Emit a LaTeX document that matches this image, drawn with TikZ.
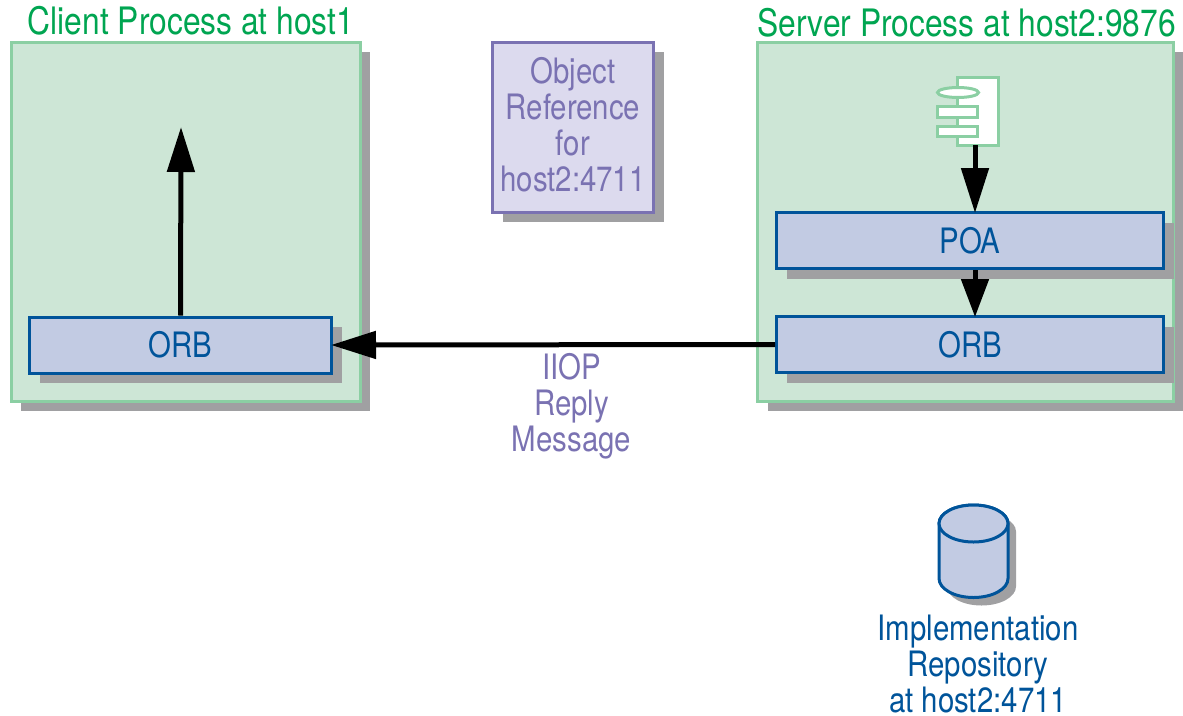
\documentclass[tikz,border=0pt]{standalone}
\usepackage{fontspec}
\setmainfont[FakeStretch=0.84]{TeX Gyre Heros}
\usetikzlibrary{calc,shapes.geometric,arrows.meta,shadows,positioning}
\definecolor{procfill}{HTML}{CDE6D6}
\definecolor{procline}{HTML}{8BCFA3}
\definecolor{procgreen}{HTML}{00A551}
\definecolor{orbfill}{HTML}{C2CBE3}
\definecolor{orbline}{HTML}{00549A}
\definecolor{reffill}{HTML}{DCDAEE}
\definecolor{refline}{HTML}{7A72B2}
\definecolor{shade}{HTML}{A0A0A2}
\tikzstyle{castshadow} = [drop shadow={shadow xshift=10pt, shadow yshift=-10pt, fill=shade, opacity=1}]
\tikzstyle{process} = [rectangle, minimum width=349pt, minimum height=359pt, draw=procline, line width=3pt, fill=procfill, inner sep=0pt, castshadow]
\tikzstyle{layer} = [rectangle, minimum width=387pt, minimum height=56pt, draw=orbline, line width=3pt, fill=orbfill, text=orbline, inner sep=0pt, castshadow]
\tikzstyle{objref} = [rectangle, minimum width=161pt, minimum height=170pt, draw=refline, line width=3pt, fill=reffill, inner sep=0pt, castshadow]
\tikzstyle{proclabel} = [text=procgreen, inner sep=0pt, font=\fontsize{37.8}{40}\selectfont]
\tikzstyle{msglabel} = [text=refline, align=center, inner sep=0pt]
\tikzstyle{repolabel} = [text=orbline, align=center, inner sep=0pt]
\tikzstyle{comppart} = [rectangle, draw=procline, line width=3pt, fill=white, inner sep=0pt]
\tikzstyle{repobody} = [draw=orbline, line width=3pt, fill=orbfill]
\tikzstyle{arrow} = [line width=5pt, shorten >=-2pt, -{Triangle[length=45pt, width=27pt]}]
\begin{document}
\begin{tikzpicture}[x=1pt, y=-1pt, node distance=105pt, font=\fontsize{35}{36}\selectfont]
\useasboundingbox (0,0) rectangle (1183,715);
\node (client) [process] at (185.5,221.5) {};
\node (server) [process, minimum width=416pt] at (965.5,221.5) {};
\node (clientlabel) [proclabel] at (191,21) {Client Process at host1};
\node (serverlabel) [proclabel] at (966.5,23) {Server Process at host2:9876};
\node (ref) [objref] at (573,127) {};
\node (reflabel) [msglabel] at (573,124.5) {Object\\Reference\\for\\host2:4711};
\node (orbc) [layer, minimum width=302pt] at (180.5,345) {ORB};
\node (poa) [layer] at (970,240.5) {POA};
\node (orbs) [layer, below of=poa, yshift=1pt] {ORB};
\node (msg) [msglabel] at (571.5,406) {IIOP\\Reply\\Message};
% component icon
\node (comp) [comppart, minimum width=41pt, minimum height=68pt] at (978,111.5) {};
\node (compa) [comppart, ellipse, minimum width=41pt, minimum height=10pt] at (958,92.5) {};
\node (compb) [comppart, minimum width=40pt, minimum height=11pt] at (957.5,112) {};
\node (compc) [comppart, minimum width=40pt, minimum height=10pt] at (957.5,131.5) {};
% repository
\coordinate (repotop) at (973.5,523.5);
\draw [repobody, preaction={draw=none, fill=shade, transform canvas={xshift=8pt, yshift=-8pt}}] (939,523.5) -- (939,578.5) arc [start angle=180, end angle=0, x radius=34.5, y radius=19] -- (1008,523.5) arc [start angle=0, end angle=180, x radius=34.5, y radius=-18.5] -- cycle;
\draw [repobody] (repotop) ellipse [x radius=34.5, y radius=18.5];
\node (repolabel) [repolabel] at (978,664) {Implementation\\Repository\\at host2:4711};
\coordinate (clienttip) at (181,129);
\coordinate (compfoot) at (975,145);
\draw [arrow] (orbc.north) -- (clienttip);
\draw [arrow] (compfoot) -- (compfoot |- poa.north);
\draw [arrow, -{Triangle[length=38pt, width=27pt]}] (compfoot |- poa.south) -- (compfoot |- orbs.north);
\draw [arrow] (orbs.west) -- (orbc.east);
\end{tikzpicture}
\end{document}
